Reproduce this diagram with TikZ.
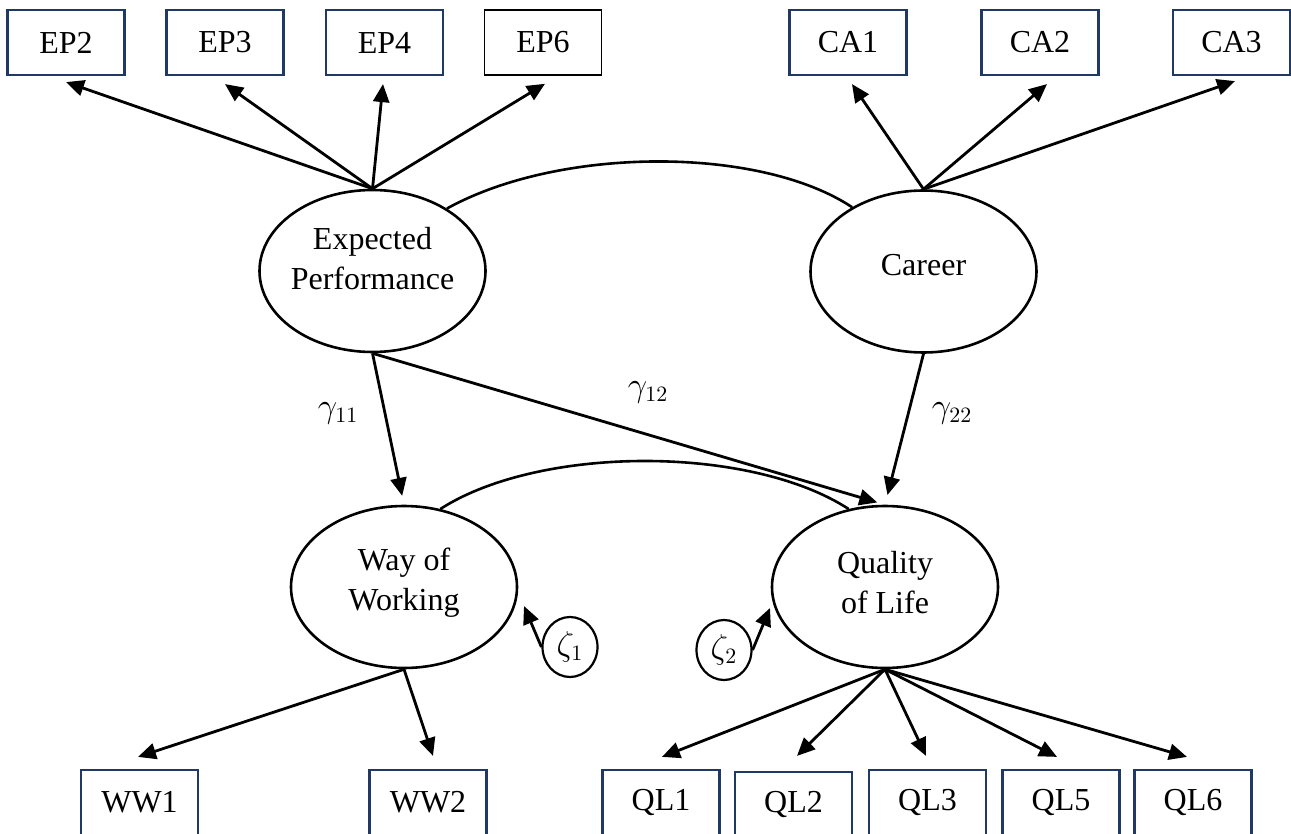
\documentclass[tikz,border=0pt]{standalone}
\usepackage{fontspec}
\setmainfont{Liberation Serif}
\usetikzlibrary{arrows.meta,shapes.geometric}
\definecolor{navy}{RGB}{32,56,100}
\begin{document}
\begin{tikzpicture}[x=0.5pt,y=-0.5pt,
  font=\fontsize{16}{20}\selectfont,
  obs/.style={draw=navy,line width=1.1pt,minimum width=58.5pt,minimum height=32.5pt,inner sep=0pt},
  obsblack/.style={obs,draw=black,line width=0.8pt},
  lat/.style={draw,ellipse,line width=1.3pt,minimum width=113pt,minimum height=81pt,inner sep=0pt},
  err/.style={draw,ellipse,line width=1.1pt,minimum width=27.5pt,minimum height=30pt,inner sep=0pt},
  arr/.style={-{Triangle[length=9pt,width=8pt]},line width=1.4pt},
  cov/.style={line width=1.3pt},
  lbl/.style={inner sep=0pt}
]
\useasboundingbox (0,0) rectangle (1291,834);
\clip (0,0) rectangle (1291,834);

% indicator boxes (top)
\node[obs] (EP2) at (66,42.5) {EP2};
\node[obs] (EP3) at (225,42.5) {EP3};
\node[obs] (EP4) at (384.5,42.5) {EP4};
\node[obsblack] (EP6) at (543,42.5) {EP6};
\node[obs] (CA1) at (848,42.5) {CA1};
\node[obs] (CA2) at (1040,42.5) {CA2};
\node[obs] (CA3) at (1231.5,42.5) {CA3};

% indicator boxes (bottom)
\node[obs] (WW1) at (139.5,802.5) {WW1};
\node[obs] (WW2) at (428,802.5) {WW2};
\node[obs] (QL1) at (661,802.5) {QL1};
\node[obs] (QL2) at (793.5,804.5) {QL2};
\node[obs] (QL3) at (927.5,802.5) {QL3};
\node[obs] (QL5) at (1061,802.5) {QL5};
\node[obs] (QL6) at (1193,802.5) {QL6};

% latent variables
\node[lat,label={[yshift=6pt,align=center,inner sep=0pt]center:Expected\\Performance}] (ep) at (372.5,271) {};
\node[lat,label={[yshift=3pt,inner sep=0pt]center:Career}] (car) at (923.5,271.5) {};
\node[lat,label={[yshift=2pt,align=center,inner sep=0pt]center:Way of\\Working}] (ww) at (404,587) {};
\node[lat,label={[yshift=2pt,align=center,inner sep=0pt]center:Quality\\of Life}] (ql) at (885,587) {};

% disturbances
\node[err] (z1) at (570,647) {$\zeta_1$};
\node[err] (z2) at (724,650) {$\zeta_2$};
\coordinate (z1t) at (524,606);
\coordinate (z2t) at (770,608);

% loadings (top)
\draw[arr] (ep.north) -- ([yshift=-3pt]EP2.south);
\draw[arr] (ep.north) -- ([yshift=-4pt]EP3.south);
\draw[arr] (ep.north) -- ([yshift=-4pt,xshift=-0.75pt]EP4.south);
\draw[arr] (ep.north) -- ([yshift=-4pt,xshift=1pt]EP6.south);
\draw[arr] (car.north) -- ([yshift=-4pt,xshift=2pt]CA1.south);
\draw[arr] (car.north) -- ([yshift=-4pt,xshift=3.5pt]CA2.south);
\draw[arr] (car.north) -- ([yshift=-2.5pt,xshift=1.75pt]CA3.south);

% loadings (bottom)
\draw[arr] (ww.south) -- ([yshift=6pt,xshift=-0.75pt]WW1.north);
\draw[arr] (ww.south) -- ([yshift=6.5pt,xshift=2.5pt]WW2.north);
\draw[arr] (ql.south) -- ([yshift=6pt,xshift=0.5pt]QL1.north);
\draw[arr] (ql.south) -- ([yshift=7.5pt,xshift=1.75pt]QL2.north);
\draw[arr] (ql.south) -- ([yshift=6.5pt,xshift=-0.75pt]QL3.north);
\draw[arr] (ql.south) -- ([yshift=6pt,xshift=-2pt]QL5.north);
\draw[arr] (ql.south) -- ([yshift=6pt,xshift=-3pt]QL6.north);

% structural paths
\draw[arr,shorten >=4.5pt] (ep.south) -- (ww.north);
\draw[arr,shorten >=4pt] (ep.south) -- (ql.north);
\draw[arr,shorten >=5pt] (car.south) -- (ql.north);

% covariances
\draw[cov] (ep.40) .. controls (560,146) and (760,146) .. (car.138);
\draw[cov] (ww.65) .. controls (540,445) and (750,445) .. (ql.115);

% disturbance arrows
\draw[arr] (z1.west) -- (z1t);
\draw[arr] (z2.east) -- (z2t);

% path labels
\node[lbl] (g11) at (338,413) {$\gamma_{11}$};
\node[lbl] (g12) at (648,392) {$\gamma_{12}$};
\node[lbl] (g22) at (952,413) {$\gamma_{22}$};
\end{tikzpicture}
\end{document}
